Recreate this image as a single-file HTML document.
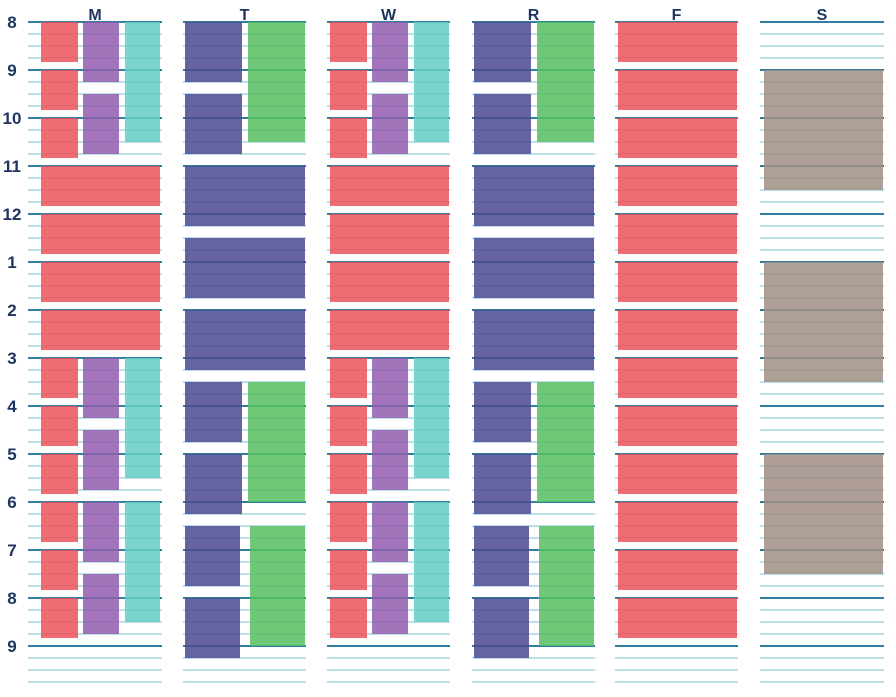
<!DOCTYPE html><html><head><style>body{margin:0;background:#fff}</style></head><body>
<svg width="896" height="692" xmlns="http://www.w3.org/2000/svg" font-family="Liberation Sans, sans-serif" font-weight="bold">
<g id="lines"></g><g id="bars" opacity="0.85"></g><g id="txt"></g>
</svg>
<script>
const NS="http://www.w3.org/2000/svg";
const bars=document.getElementById('bars'),lines=document.getElementById('lines'),txt=document.getElementById('txt');
function r(x1,x2,y1,y2,c){const e=document.createElementNS(NS,'rect');e.setAttribute('x',x1);e.setAttribute('y',y1);e.setAttribute('width',x2-x1);e.setAttribute('height',y2-y1);e.setAttribute('fill',c);bars.appendChild(e);}
function l(x1,x2,y,c,w){const e=document.createElementNS(NS,'line');e.setAttribute('x1',x1);e.setAttribute('x2',x2);e.setAttribute('y1',y);e.setAttribute('y2',y);e.setAttribute('stroke',c);e.setAttribute('stroke-width',w);lines.appendChild(e);}
function t(x,y,s,a,fs){const e=document.createElementNS(NS,'text');e.setAttribute('x',x);e.setAttribute('y',y);e.setAttribute('text-anchor',a||'middle');e.setAttribute('font-size',fs||'16');e.setAttribute('fill','#1f3560');e.textContent=s;txt.appendChild(e);}
const RED='#ee535b',PUR='#925eaf',TEAL='#65cdc4',NAVY='#4b4890',GRN='#57bf60',TAU='#a08e85';
const cols=[[28,162,'M'],[183,306,'T'],[327,450,'W'],[472,595,'R'],[615,738,'F'],[760,884,'S']];
cols.forEach(c=>{for(let y=22;y<=682;y+=12){const h=(y-22)%48==0&&y<=646;l(c[0],c[1],y,h?'#2f7fa3':'#a8d6e2',h?2:1.5);}t((c[0]+c[1])/2,20,c[2],'middle','16');});
const hrs=['8','9','10','11','12','1','2','3','4','5','6','7','8','9'];
hrs.forEach((h,i)=>t(12,22+48*i+6,h,'middle','17'));
function mw(o){
 [[22,62],[70,110],[118,158],[358,398],[406,446],[454,494],[502,542],[550,590],[598,638]].forEach(b=>r(41+o,78+o,b[0],b[1],RED));
 [[22,82],[94,154],[358,418],[430,490],[502,562],[574,634]].forEach(b=>r(83+o,119+o,b[0],b[1],PUR));
 [[22,142],[358,478],[502,622]].forEach(b=>r(125+o,160+o,b[0],b[1],TEAL));
 [[166,206],[214,254],[262,302],[310,350]].forEach(b=>r(41+o,160+o,b[0],b[1],RED));
}
mw(0);mw(289);
function tr(o){
 [[22,82],[94,154],[382,442],[454,514]].forEach(b=>r(185+o,242+o,b[0],b[1],NAVY));
 [[526,586],[598,658]].forEach(b=>r(185+o,240+o,b[0],b[1],NAVY));
 [[22,142],[382,502]].forEach(b=>r(248+o,305+o,b[0],b[1],GRN));
 r(250+o,305+o,526,646,GRN);
 [[166,226],[238,298],[310,370]].forEach(b=>r(185+o,305+o,b[0],b[1],NAVY));
}
tr(0);tr(289);
for(let i=0;i<13;i++)r(618,737,22+48*i,62+48*i,RED);
[[70,190],[262,382],[454,574]].forEach(b=>r(764,883,b[0],b[1],TAU));
</script>
</body></html>
